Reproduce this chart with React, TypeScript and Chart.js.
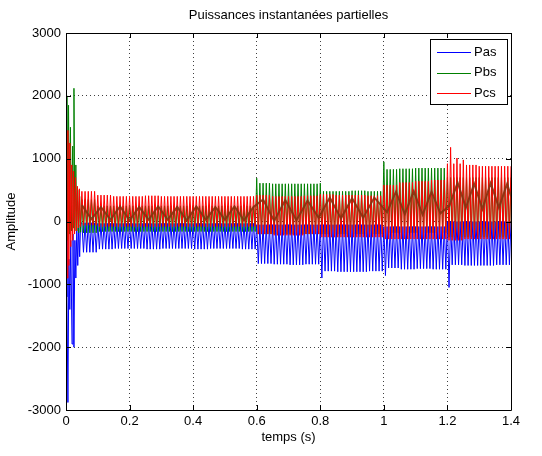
import { useEffect, useRef } from 'react';
import { Chart, registerables } from 'chart.js';

Chart.register(...registerables);

const FONT = "'Liberation Sans', Arial, Helvetica, sans-serif";

const chartTitle = 'Puissances instantanées partielles';
const xAxisTitle = 'temps (s)';
const yAxisTitle = 'Amplitude';

const xTicks = [0, 0.2, 0.4, 0.6, 0.8, 1, 1.2, 1.4];
const xTickLabels = ['0', '0.2', '0.4', '0.6', '0.8', '1', '1.2', '1.4'];
const yTicks = [-3000, -2000, -1000, 0, 1000, 2000, 3000];
const yTickLabels = ['-3000', '-2000', '-1000', '0', '1000', '2000', '3000'];

const seriesNames = ['Pas', 'Pbs', 'Pcs'];
const seriesColors = ['#0000ff', '#008000', '#ff0000'];
const ridgeColor = 'rgba(135, 50, 15, 0.9)';

// start-up transient, [time (s), value]
const pasTransient = [
  [0, 0], [0.003, -1200], [0.006, -2880], [0.009, -600], [0.012, -1400], [0.015, -300],
  [0.019, -1950], [0.022, -200], [0.025, -2000], [0.028, -300], [0.031, -900], [0.034, -100],
  [0.037, -700], [0.04, -50], [0.043, -560], [0.046, -30],
];
const pbsTransient = [
  [0, 0], [0.003, 2000], [0.005, -300], [0.008, 1850], [0.011, -200], [0.014, 1500],
  [0.017, -150], [0.021, 1200], [0.023, -100], [0.025, 2120], [0.028, -150], [0.031, 900],
  [0.034, -150], [0.037, 500], [0.04, -180], [0.043, 400], [0.046, -170],
];
const pcsTransient = [
  [0, 0], [0.002, 1000], [0.004, -900], [0.006, 1450], [0.009, -700], [0.012, 1250],
  [0.015, -400], [0.018, 900], [0.021, -300], [0.024, 800], [0.027, -200], [0.03, 700],
  [0.033, -150], [0.036, 560], [0.039, -100], [0.042, 520], [0.045, -80],
];

// steady oscillation after the transient: upper and lower peak levels,
// one value per 0.05 s block from 0.05 s to 1.40 s
const blockStart = 0.05;
const halfPeriod = 0.005;
const halfPeriodsPerBlock = 10;

const pasHigh = [-20, -30, -30, -30, -30, -30, -30, -30, -30, -30, -30, -50, -50, -50, -50, -50, -50, -50, -50, -80, -80, -80, -80, 0, 0, 0, 0];
const pasLow = [-490, -440, -430, -430, -440, -430, -430, -440, -430, -430, -440, -670, -680, -690, -680, -790, -800, -800, -790, -740, -760, -750, -760, -690, -700, -700, -690];
const pbsHigh = [350, 250, 250, 250, 250, 250, 250, 250, 250, 250, 250, 610, 600, 600, 600, 480, 480, 490, 480, 830, 840, 850, 850, 700, 700, 700, 700];
const pbsLow = [-180, -160, -160, -160, -160, -160, -160, -160, -160, -160, -160, -200, -200, -200, -200, -200, -200, -200, -200, -180, -180, -180, -180, -250, -250, -250, -250];
const pcsHigh = [480, 420, 400, 400, 410, 400, 400, 400, 400, 400, 400, 420, 400, 400, 410, 430, 420, 420, 410, 580, 620, 640, 660, 920, 900, 880, 880];
const pcsLow = [-60, -80, -80, -80, -80, -80, -80, -80, -80, -80, -80, -200, -220, -220, -200, -250, -250, -250, -250, -280, -280, -280, -280, -300, -280, -280, -280];

// isolated peaks standing out of the band, [time (s), value]
const pasSpikes = [[0.805, -900], [1.005, -860], [1.205, -1050]];
const pbsSpikes = [[0.605, 690], [0.805, 610], [1.005, 950]];
const pcsSpikes = [[1.21, 1180], [1.23, 1010], [1.25, 980]];

// slow triangular ridge running through the Pcs band
const ridgeTimes = [
  0.05, 0.08, 0.11, 0.14, 0.17, 0.2, 0.23, 0.26, 0.29, 0.32, 0.35, 0.38, 0.41, 0.44, 0.47, 0.5, 0.53, 0.56, 0.59,
  0.62, 0.655, 0.69, 0.725, 0.76, 0.795, 0.83, 0.865, 0.9, 0.935, 0.97,
  1.01, 1.038, 1.066, 1.094, 1.122, 1.15, 1.178,
  1.206, 1.232, 1.258, 1.284, 1.31, 1.336, 1.362, 1.388, 1.4,
];
const ridgeValues = [
  260, 40, 230, 30, 240, 20, 230, 30, 240, 30, 230, 20, 240, 30, 230, 30, 240, 20, 230,
  350, 10, 340, 20, 330, 60, 380, 50, 370, 60, 380,
  150, 470, 120, 480, 110, 470, 130,
  250, 620, 220, 600, 200, 610, 220, 600, 400,
];

type Pt = { x: number; y: number };

function buildSeries(transient: number[][], high: number[], low: number[], spikes: number[][]): Pt[] {
  const pts: Pt[] = transient.map(([x, y]) => ({ x, y }));
  const steady: Pt[] = [];
  const count = high.length * halfPeriodsPerBlock;
  for (let k = 0; k <= count; k++) {
    const b = Math.min(high.length - 1, Math.floor(k / halfPeriodsPerBlock));
    steady.push({ x: blockStart + k * halfPeriod, y: k % 2 === 0 ? high[b] : low[b] });
  }
  for (const [t, v] of spikes) {
    const upper = v > 0;
    let best = -1;
    let bestDist = Infinity;
    steady.forEach((p, k) => {
      if ((k % 2 === 0) !== upper) return;
      const d = Math.abs(p.x - t);
      if (d < bestDist) { bestDist = d; best = k; }
    });
    if (best >= 0) steady[best].y = v;
  }
  return pts.concat(steady);
}

const frame = {
  id: 'matlabFrame',
  afterDatasetsDraw(chart: any) {
    const { ctx, chartArea } = chart;
    const { left, right, top, bottom } = chartArea;
    const xs = chart.scales.x;
    const ys = chart.scales.y;
    ctx.save();
    ctx.strokeStyle = '#000';
    ctx.lineWidth = 1;
    ctx.beginPath();
    ctx.rect(Math.round(left) + 0.5, Math.round(top) + 0.5, Math.round(right - left), Math.round(bottom - top));
    ctx.stroke();
    const tl = 5;
    ctx.beginPath();
    for (const v of xTicks) {
      const px = Math.round(xs.getPixelForValue(v)) + 0.5;
      ctx.moveTo(px, bottom); ctx.lineTo(px, bottom - tl);
      ctx.moveTo(px, top); ctx.lineTo(px, top + tl);
    }
    for (const v of yTicks) {
      const py = Math.round(ys.getPixelForValue(v)) + 0.5;
      ctx.moveTo(left, py); ctx.lineTo(left + tl, py);
      ctx.moveTo(right, py); ctx.lineTo(right - tl, py);
    }
    ctx.stroke();

    // title
    ctx.fillStyle = '#000';
    ctx.font = `13px ${FONT}`;
    ctx.textAlign = 'center';
    ctx.textBaseline = 'alphabetic';
    ctx.fillText(chartTitle, (left + right) / 2, 19);

    // legend box
    const bx = 430, by = 39, bw = 77, bh = 65;
    ctx.fillStyle = '#fff';
    ctx.fillRect(bx, by, bw, bh);
    ctx.strokeRect(bx + 0.5, by + 0.5, bw, bh);
    seriesNames.forEach((name, i) => {
      const yy = 52 + i * 20.5;
      ctx.strokeStyle = seriesColors[i];
      ctx.beginPath();
      ctx.moveTo(437, Math.round(yy) + 0.5);
      ctx.lineTo(471, Math.round(yy) + 0.5);
      ctx.stroke();
      ctx.fillStyle = '#000';
      ctx.textAlign = 'left';
      ctx.textBaseline = 'middle';
      ctx.fillText(name, 474, yy);
    });
    ctx.restore();
  },
};

export default function App() {
  const canvasRef = useRef<HTMLCanvasElement>(null);

  useEffect(() => {
    if (!canvasRef.current) return;
    const pas = buildSeries(pasTransient, pasHigh, pasLow, pasSpikes);
    const pbs = buildSeries(pbsTransient, pbsHigh, pbsLow, pbsSpikes);
    const pcs = buildSeries(pcsTransient, pcsHigh, pcsLow, pcsSpikes);
    const ridge = ridgeTimes.map((x, i) => ({ x, y: ridgeValues[i] }));

    const lineDefaults = { borderWidth: 1, pointRadius: 0, tension: 0, fill: false };
    const chart = new Chart(canvasRef.current, {
      type: 'line',
      data: {
        datasets: [
          { label: seriesNames[0], data: pas, borderColor: seriesColors[0], order: 3, ...lineDefaults },
          { label: seriesNames[1], data: pbs, borderColor: seriesColors[1], order: 2, ...lineDefaults },
          { label: seriesNames[2], data: pcs, borderColor: seriesColors[2], order: 1, ...lineDefaults },
          { label: 'ridge', data: ridge, borderColor: ridgeColor, order: 0, ...lineDefaults, borderWidth: 2 },
        ],
      },
      options: {
        responsive: false,
        animation: false,
        devicePixelRatio: 1,
        parsing: false,
        normalized: true,
        events: [],
        layout: { padding: { left: 0, right: 31, top: 33, bottom: 0 } },
        plugins: { legend: { display: false }, title: { display: false }, tooltip: { enabled: false } },
        scales: {
          x: {
            type: 'linear',
            min: 0,
            max: 1.4,
            afterBuildTicks: (s: any) => { s.ticks = xTicks.map((value) => ({ value })); },
            afterFit: (s: any) => { s.height = 46; },
            ticks: {
              autoSkip: false,
              maxRotation: 0,
              padding: 4,
              color: '#000',
              font: { family: FONT, size: 13 },
              callback: (_v: any, i: number) => xTickLabels[i],
            },
            grid: { color: 'rgba(0,0,0,0.75)', lineWidth: 1, drawTicks: false },
            border: { display: false, dash: [1, 3] },
            title: { display: true, text: xAxisTitle, color: '#000', font: { family: FONT, size: 13 }, padding: { top: 0, bottom: 11 } },
          },
          y: {
            type: 'linear',
            min: -3000,
            max: 3000,
            afterBuildTicks: (s: any) => { s.ticks = yTicks.map((value) => ({ value })); },
            afterFit: (s: any) => { s.width = 66; },
            ticks: {
              autoSkip: false,
              padding: 5,
              color: '#000',
              font: { family: FONT, size: 13 },
              callback: (_v: any, i: number) => yTickLabels[i],
            },
            grid: { color: 'rgba(0,0,0,0.75)', lineWidth: 1, drawTicks: false },
            border: { display: false, dash: [1, 3] },
            title: { display: true, text: yAxisTitle, color: '#000', font: { family: FONT, size: 13 }, padding: { top: 4, bottom: 0 } },
          },
        },
      },
      plugins: [frame],
    } as any);
    return () => chart.destroy();
  }, []);

  return (
    <div style={{ position: 'absolute', left: 0, top: 0, width: 542, height: 456, background: '#fff' }}>
      <canvas ref={canvasRef} width={542} height={456} style={{ display: 'block' }} />
    </div>
  );
}
